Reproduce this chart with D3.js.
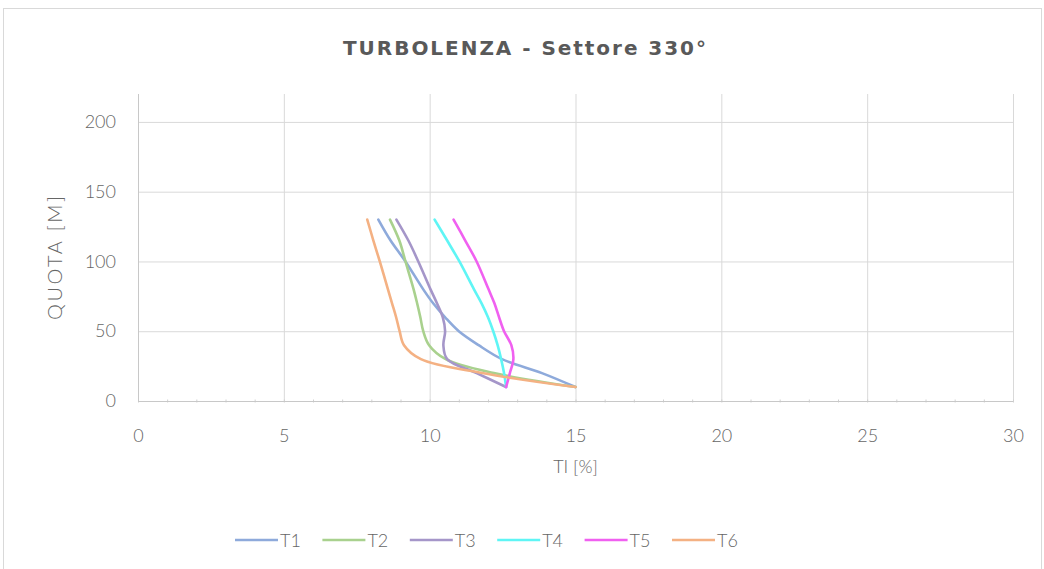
<!DOCTYPE html>
<html>
<head>
<meta charset="utf-8">
<script src="https://cdn.jsdelivr.net/npm/d3@7"></script>
<style>
  html, body { margin: 0; padding: 0; background: #fff; }
  svg { display: block; }
</style>
</head>
<body>
<svg id="chart" width="1044" height="569"></svg>
<script>
// ---- data ----
const heights = [10, 20, 30, 40, 50, 60, 70, 80, 100, 115, 130];
const seriesNames = ["T1", "T2", "T3", "T4", "T5", "T6"];
const T1 = [15.0, 13.85, 12.48, 11.68, 11.0, 10.53, 10.12, 9.78, 9.17, 8.66, 8.24];
const T2 = [15.0, 12.2, 10.55, 9.98, 9.78, 9.68, 9.57, 9.45, 9.17, 8.96, 8.64];
const T3 = [12.62, 11.61, 10.6, 10.47, 10.53, 10.45, 10.25, 10.03, 9.61, 9.27, 8.86];
const T4 = [12.62, 12.55, 12.45, 12.33, 12.18, 12.0, 11.78, 11.52, 11.02, 10.6, 10.17];
const T5 = [12.62, 12.75, 12.87, 12.8, 12.55, 12.38, 12.22, 12.02, 11.61, 11.22, 10.82];
const T6 = [15.0, 11.8, 9.7, 9.12, 8.97, 8.85, 8.71, 8.57, 8.29, 8.07, 7.86];
const seriesValues = [T1, T2, T3, T4, T5, T6];
const seriesColors = ["#8eaadb", "#a9d18e", "#a596c9", "#5ff5f5", "#f060f0", "#f4b183"];
const xTicks = [0, 5, 10, 15, 20, 25, 30];
const yTicks = [0, 50, 100, 150, 200];
const title = "TURBOLENZA - Settore 330°";
const xTitle = "TI [%]";
const yTitle = "QUOTA [M]";

// ---- layout ----
const svg = d3.select("#chart");
const plot = { left: 138, right: 1013, top: 94, bottom: 401 };
const x = d3.scaleLinear().domain([0, 30]).range([plot.left, plot.right]);
const y = d3.scaleLinear().domain([0, 220]).range([plot.bottom, plot.top]);
const textColor = "#666666";
const font = "Lato, 'Open Sans', 'DejaVu Sans', sans-serif";
const wideFont = "'DejaVu Sans', Lato, sans-serif";

// outer frame
svg.append("rect")
  .attr("x", 3.5).attr("y", 8.5).attr("width", 1038).attr("height", 570)
  .attr("fill", "#fff").attr("stroke", "#d9d9d9").attr("stroke-width", 1);

// title
svg.append("text")
  .attr("x", 343).attr("y", 55)
  .attr("font-family", wideFont).attr("font-weight", "bold")
  .attr("font-size", 20)
  .attr("textLength", 363).attr("lengthAdjust", "spacing")
  .attr("fill", "#595959")
  .text(title);

// gridlines
const gridV = d3.axisBottom(x).tickValues(xTicks).tickSize(-(plot.bottom - plot.top)).tickFormat("");
svg.append("g").attr("transform", `translate(0,${plot.bottom})`).call(gridV)
  .call(g => g.select(".domain").remove())
  .call(g => g.selectAll("line").attr("stroke", "#d9d9d9").attr("stroke-width", 1));
const gridH = d3.axisLeft(y).tickValues(yTicks).tickSize(-(plot.right - plot.left)).tickFormat("");
svg.append("g").attr("transform", `translate(${plot.left},0)`).call(gridH)
  .call(g => g.select(".domain").remove())
  .call(g => g.selectAll("line").attr("stroke", "#d9d9d9").attr("stroke-width", 1));

// minor ticks on x axis
const minor = d3.range(0, 31, 1);
const xMinor = d3.axisBottom(x).tickValues(minor).tickSize(3).tickFormat("");
svg.append("g").attr("transform", `translate(0,${plot.bottom - 1.5})`).call(xMinor)
  .call(g => g.select(".domain").remove())
  .call(g => g.selectAll("line").attr("stroke", "#d0d0d0"));

// axis lines
svg.append("line").attr("x1", plot.left).attr("x2", plot.right)
  .attr("y1", plot.bottom + 0.5).attr("y2", plot.bottom + 0.5).attr("stroke", "#c8c8c8");
svg.append("line").attr("x1", plot.left + 0.5).attr("x2", plot.left + 0.5)
  .attr("y1", plot.top).attr("y2", plot.bottom).attr("stroke", "#c8c8c8");

// tick labels
const xAxis = d3.axisBottom(x).tickValues(xTicks).tickSize(0).tickPadding(28);
svg.append("g").attr("transform", `translate(0,${plot.bottom})`).call(xAxis)
  .call(g => g.select(".domain").remove())
  .call(g => g.selectAll("text").attr("font-family", font).attr("font-size", 18)
    .attr("fill", textColor).attr("font-weight", 300));
const yAxis = d3.axisLeft(y).tickValues(yTicks).tickSize(0).tickPadding(22);
svg.append("g").attr("transform", `translate(${plot.left},0)`).call(yAxis)
  .call(g => g.select(".domain").remove())
  .call(g => g.selectAll("text").attr("font-family", font).attr("font-size", 18)
    .attr("fill", textColor).attr("font-weight", 300));

// axis titles
svg.append("text")
  .attr("x", x(15)).attr("y", 473)
  .attr("text-anchor", "middle")
  .attr("font-family", font).attr("font-size", 18).attr("font-weight", 300)
  .attr("fill", textColor).text(xTitle);
svg.append("text")
  .attr("transform", `translate(62,320) rotate(-90)`)
  .attr("font-family", font).attr("font-size", 20).attr("font-weight", 300)
  .attr("textLength", 124).attr("lengthAdjust", "spacing")
  .attr("fill", textColor).text(yTitle);

// series lines
const line = d3.line()
  .x(d => x(d[0]))
  .y(d => y(d[1]))
  .curve(d3.curveCatmullRom.alpha(0.5));
seriesNames.forEach((name, i) => {
  const pts = heights.map((h, j) => [seriesValues[i][j], h]);
  svg.append("path")
    .attr("d", line(pts))
    .attr("fill", "none")
    .attr("stroke", seriesColors[i])
    .attr("stroke-width", 2.6)
    .attr("stroke-linejoin", "round")
    .attr("stroke-linecap", "round");
});

// legend
const legendX0 = 235, legendStep = 87.4, legendY = 540;
seriesNames.forEach((name, i) => {
  const lx = legendX0 + i * legendStep;
  svg.append("line")
    .attr("x1", lx).attr("x2", lx + 43)
    .attr("y1", legendY).attr("y2", legendY)
    .attr("stroke", seriesColors[i]).attr("stroke-width", 2.6);
  svg.append("text")
    .attr("x", lx + 45).attr("y", legendY + 6.5)
    .attr("font-family", font).attr("font-size", 18).attr("font-weight", 300)
    .attr("fill", textColor).text(name);
});
</script>
</body>
</html>
